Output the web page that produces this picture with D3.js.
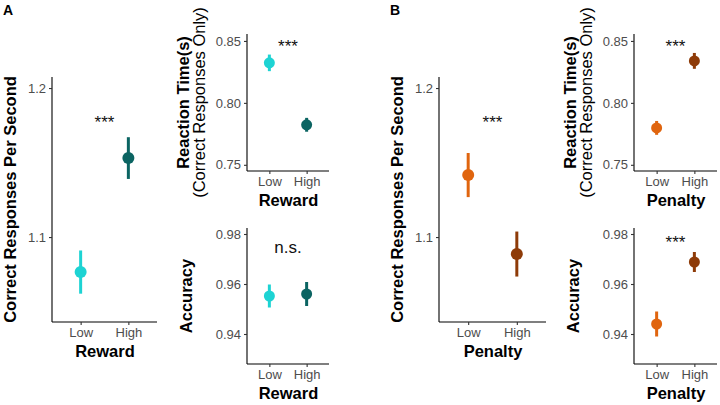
<!DOCTYPE html>
<html><head><meta charset="utf-8">
<script src="https://cdn.jsdelivr.net/npm/d3@7"></script>
<style>body{margin:0;background:#fff}svg{display:block}text{font-family:"Liberation Sans",Arial,sans-serif}</style>
</head><body>
<svg id="c" width="720" height="405"></svg>
<script>
const categories = ["Low", "High"];
const rewardCRPS = [1.0765, 1.153];
const rewardCRPSErr = [0.0145, 0.014];
const rewardRT = [0.8323, 0.7823];
const rewardRTErr = [0.0067, 0.0056];
const rewardAcc = [0.9552, 0.9560];
const rewardAccErr = [0.0046, 0.0048];
const penaltyCRPS = [1.1416, 1.0886];
const penaltyCRPSErr = [0.0148, 0.0151];
const penaltyRT = [0.7798, 0.8339];
const penaltyRTErr = [0.0056, 0.0064];
const penaltyAcc = [0.9440, 0.9688];
const penaltyAccErr = [0.0050, 0.0040];
const crpsTicks = [1.1, 1.2];
const rtTicks = [0.75, 0.80, 0.85];
const accTicks = [0.94, 0.96, 0.98];
const sigLabels = ["***", "***", "n.s.", "***", "***", "***"];
const sigY = [1.1732, 0.8411, 0.9726, 1.1732, 0.8411, 0.9744];
const rewardColors = ["#1dd3d3", "#0b6462"];
const penaltyColors = ["#e0650f", "#8e3b08"];

const svg = d3.select("#c");

const panels = [
  {vals: rewardCRPS, err: rewardCRPSErr, ticks: crpsTicks, dom: [1.043, 1.2074], fmt: d3.format(".1f"),
   x0: 52, x1: 157, y0: 77, y1: 322, r: 6, colors: rewardColors, xt: "Reward",
   yt: ["Correct Responses Per Second"], ytx: [10], sig: 0},
  {vals: rewardRT, err: rewardRTErr, ticks: rtTicks, dom: [0.745, 0.8556], fmt: d3.format(".2f"),
   x0: 247, x1: 329, y0: 34, y1: 171, r: 5.5, colors: rewardColors, xt: "Reward",
   yt: ["Reaction Time(s)", "(Correct Responses Only)"], ytx: [183, 199], sig: 1},
  {vals: rewardAcc, err: rewardAccErr, ticks: accTicks, dom: [0.928, 0.9824], fmt: d3.format(".2f"),
   x0: 247, x1: 329, y0: 228, y1: 364, r: 5.5, colors: rewardColors, xt: "Reward",
   yt: ["Accuracy"], ytx: [186], sig: 2},
  {vals: penaltyCRPS, err: penaltyCRPSErr, ticks: crpsTicks, dom: [1.043, 1.2074], fmt: d3.format(".1f"),
   x0: 439, x1: 546, y0: 77, y1: 322, r: 6, colors: penaltyColors, xt: "Penalty",
   yt: ["Correct Responses Per Second"], ytx: [397], sig: 3},
  {vals: penaltyRT, err: penaltyRTErr, ticks: rtTicks, dom: [0.745, 0.8556], fmt: d3.format(".2f"),
   x0: 634, x1: 717, y0: 34, y1: 171, r: 5.5, colors: penaltyColors, xt: "Penalty",
   yt: ["Reaction Time(s)", "(Correct Responses Only)"], ytx: [570, 586], sig: 4},
  {vals: penaltyAcc, err: penaltyAccErr, ticks: accTicks, dom: [0.928, 0.9824], fmt: d3.format(".2f"),
   x0: 634, x1: 717, y0: 228, y1: 364, r: 5.5, colors: penaltyColors, xt: "Penalty",
   yt: ["Accuracy"], ytx: [573], sig: 5}
];

panels.forEach(p => {
  const x = d3.scalePoint().domain(categories).range([p.x0, p.x1]).padding(0.6);
  const y = d3.scaleLinear().domain(p.dom).range([p.y1, p.y0]);
  const g = svg.append("g");

  const ya = g.append("g").attr("transform", `translate(${p.x0},0)`)
    .call(d3.axisLeft(y).tickValues(p.ticks).tickFormat(p.fmt).tickSize(3).tickPadding(3).tickSizeOuter(0));
  const xa = g.append("g").attr("transform", `translate(0,${p.y1})`)
    .call(d3.axisBottom(x).tickSize(3).tickPadding(3).tickSizeOuter(0));
  [ya, xa].forEach(a => {
    a.select(".domain").attr("stroke", "#000").attr("stroke-width", 1.1);
    a.selectAll(".tick line").attr("stroke", "#333").attr("stroke-width", 1.1);
    a.selectAll(".tick text").attr("fill", "#4d4d4d").style("font-size", "13px");
  });
  ya.select(".domain").attr("d", `M0,${p.y0}V${p.y1}`);
  xa.select(".domain").attr("d", `M${p.x0},0H${p.x1}`);

  const data = categories.map((c, i) => ({c, v: p.vals[i], e: p.err[i], col: p.colors[i]}));
  g.selectAll(".eb").data(data).enter().append("line")
    .attr("x1", d => x(d.c)).attr("x2", d => x(d.c))
    .attr("y1", d => y(d.v - d.e)).attr("y2", d => y(d.v + d.e))
    .attr("stroke", d => d.col).attr("stroke-width", 3);
  g.selectAll(".pt").data(data).enter().append("circle")
    .attr("cx", d => x(d.c)).attr("cy", d => y(d.v)).attr("r", p.r)
    .attr("fill", d => d.col);

  g.append("text").attr("x", (x(categories[0]) + x(categories[1])) / 2).attr("y", y(sigY[p.sig]))
    .attr("text-anchor", "middle").style("font-size", "17px").attr("fill", "#111")
    .text(sigLabels[p.sig]);

  g.append("text").attr("x", (p.x0 + p.x1) / 2 + 0.5).attr("y", p.y1 + 35)
    .attr("text-anchor", "middle").style("font-size", "16.5px").style("font-weight", "bold")
    .text(p.xt);

  const cy = (p.y0 + p.y1) / 2;
  p.yt.forEach((t, i) => {
    g.append("text").attr("transform", `translate(${p.ytx[i]},${cy}) rotate(-90)`)
      .attr("dy", "0.35em").attr("text-anchor", "middle").style("font-size", "16.5px")
      .style("font-weight", i === 0 ? "bold" : "normal").text(t);
  });
});

svg.append("text").attr("x", 3).attr("y", 15).style("font-size", "14px").style("font-weight", "bold").text("A");
svg.append("text").attr("x", 390).attr("y", 15).style("font-size", "14px").style("font-weight", "bold").text("B");
</script>
</body></html>
